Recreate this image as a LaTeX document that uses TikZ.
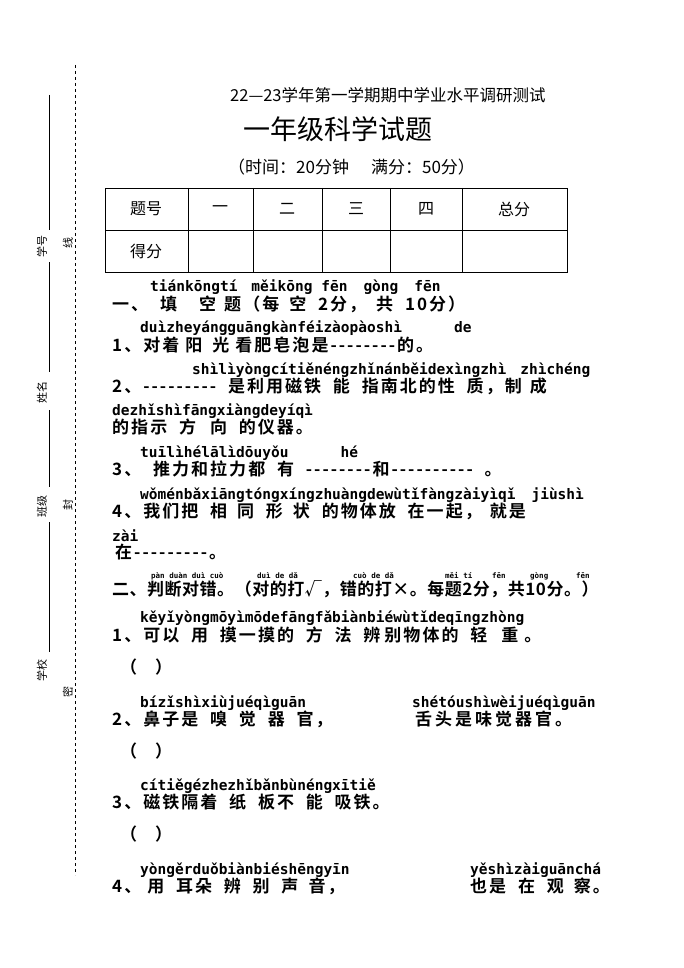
\documentclass[tikz,border=0pt]{standalone}
\usepackage{fontspec}
\setmainfont{Liberation Serif}
\newfontfamily\cj{Noto Sans CJK SC}[BoldFont={* Bold}]
\newfontfamily\cjw{Noto Sans CJK SC}[BoldFont={* Bold},LetterSpace=12,WordSpace=2]
\newfontfamily\py{DejaVu Sans Mono}
\newcommand{\gp}[1]{\hspace*{#1pt}}
\begin{document}
\begin{tikzpicture}[x=1pt,y=-1pt,
  py/.style={anchor=base west,inner sep=0,font=\py\bfseries\fontsize{14.5}{14}\selectfont},
  tiny/.style={anchor=base west,inner sep=0,font=\py\bfseries\fontsize{7.5}{8}\selectfont},
  zh/.style={anchor=base west,inner sep=0,font=\cjw\bfseries\fontsize{17}{17}\selectfont},
  side/.style={rotate=90,inner sep=0,font=\cj\fontsize{11}{11}\selectfont},
  cell/.style={inner sep=0,font=\cj\fontsize{16}{16}\selectfont}]
\useasboundingbox[fill=white] (0,0) rectangle (684,968);
% margin
\draw[dashed] (75,65) -- (75,875);
\draw (49,95) -- (49,230) (49,262) -- (49,372) (49,410) -- (49,487) (49,522) -- (49,652);
\node[side] (xh) at (42,246) {学号};
\node[side] (xm) at (42,392) {姓名};
\node[side] (bj) at (42,506) {班级};
\node[side] (xx) at (42,670) {学校};
\node[side] (m1) at (68,243) {线};
\node[side] (m2) at (68,505) {封};
\node[side] (m3) at (68,692) {密};
% titles
\node[anchor=west,inner sep=0,font=\cj\fontsize{16.5}{17}\selectfont] (t1) at (230,95) {22—23学年第一学期期中学业水平调研测试};
\node[inner sep=0,font=\cj\fontsize{27}{27}\selectfont] (t2) at (338,129) {一年级科学试题};
\node[anchor=west,inner sep=0,font=\cj\fontsize{17}{17}\selectfont] (t3) at (228,167) {（时间：20分钟\gp{22}满分：50分）};
% table
\draw (105,188) rectangle (567,272) (105,230) -- (567,230);
\foreach \x in {188,253,322,390,462} \draw (\x,188) -- (\x,272);
\node[cell] (c1) at (146,209) {题号};
\node[cell] (c2) at (220,209) {一};
\node[cell] (c3) at (287,209) {二};
\node[cell] (c4) at (356,209) {三};
\node[cell] (c5) at (426,209) {四};
\node[cell] (c6) at (514,209) {总分};
\node[cell] (c7) at (146,251) {得分};
% section 1
\node[py] (p0) at (150,291) {tiánkōngtí\gp{14}měikōng fēn\gp{16}gòng\gp{16}fēn};
\node[zh] (s1) at (112,310) {一、\gp{12}填\gp{22}空\gp{8}题（每\gp{10}空 2分，\gp{10}共 10分）};
\node[py] (p1) at (140,332) {duìzheyángguāngkànféizàopàoshì\gp{52}de};
\node[zh] (q1) at (112,351) {1、对着\gp{6}阳\gp{10}光\gp{6}看肥皂泡是--------的。};
\node[py] (p2) at (192,374) {shìlìyòngcítiěnéngzhǐnánběidexìngzhì\gp{14}zhìchéng};
\node[zh] (q2) at (112,392) {2、--------- 是利用磁铁 能 指南北的性 质，制\gp{8}成};
\node[py] (p3) at (112,415) {dezhǐshìfāngxiàngdeyíqì};
\node[zh] (q2b) at (112,433) {的指示 方\gp{14}向 的仪器。};
\node[py] (p4) at (140,457) {tuīlìhélālìdōuyǒu\gp{52}hé};
\node[zh] (q3) at (112,475) {3、 推力和拉力都 有 --------和---------- 。};
\node[py] (p5) at (140,499) {wǒménbǎxiāngtóngxíngzhuàngdewùtǐfàngzàiyìqǐ\gp{16}jiùshì};
\node[zh] (q4) at (112,517) {4、我们把 相\gp{10}同 形\gp{10}状 的物体放 在一起，\gp{8}就是};
\node[py] (p6) at (112,541) {zài};
\node[zh] (q4b) at (115,558) {在---------。};
% section 2
\node[tiny] (tp1) at (151,578) {pàn duàn duì cuò};
\node[tiny] (tp2) at (257,578) {duì de dǎ};
\node[tiny] (tp3) at (353,578) {cuò de dǎ};
\node[tiny] (tp4) at (445,578) {měi tí};
\node[tiny] (tp5) at (492,578) {fēn};
\node[tiny] (tp6) at (530,578) {gòng};
\node[tiny] (tp7) at (576,578) {fēn};
\node[zh,font=\cj\bfseries\fontsize{17}{17}\selectfont\addfontfeature{LetterSpace=3}] (s2) at (112,595) {二、判断对错。（对的打√，错的打×。每题2分，共10分。）};
\node[py] (p7) at (140,622) {kěyǐyòngmōyìmōdefāngfǎbiànbiéwùtǐdeqīngzhòng};
\node[zh] (r1) at (112,641) {1、可以 用 摸一摸的 方 法 辨\gp{4}别物体的 轻\gp{14}重\gp{6}。};
\node[zh] (b1) at (120,673) {（\gp{18}）};
\node[py] (p8) at (140,707) {bízǐshìxiùjuéqìguān};
\node[py] (p9) at (412,707) {shétóushìwèijuéqìguān};
\node[zh] (r2) at (112,725) {2、鼻子是 嗅 觉 器 官，};
\node[zh] (r2b) at (415,725) {舌\gp{3}头\gp{3}是\gp{3}味\gp{3}觉\gp{3}器\gp{3}官\gp{3}。};
\node[zh] (b2) at (120,757) {（\gp{18}）};
\node[py] (p10) at (140,790) {cítiěgézhezhǐbǎnbùnéngxītiě};
\node[zh] (r3) at (112,808) {3、磁铁隔着 纸 板不 能 吸铁。};
\node[zh] (b3) at (120,840) {（\gp{18}）};
\node[py] (p11) at (140,874) {yòngěrduǒbiànbiéshēngyīn};
\node[py] (p12) at (470,874) {yěshìzàiguānchá};
\node[zh] (r4) at (112,892) {4、\gp{6}用 耳朵 辨 别 声\gp{10}音，};
\node[zh] (r4b) at (470,892) {也是 在 观\gp{10}察。};
\end{tikzpicture}
\end{document}
